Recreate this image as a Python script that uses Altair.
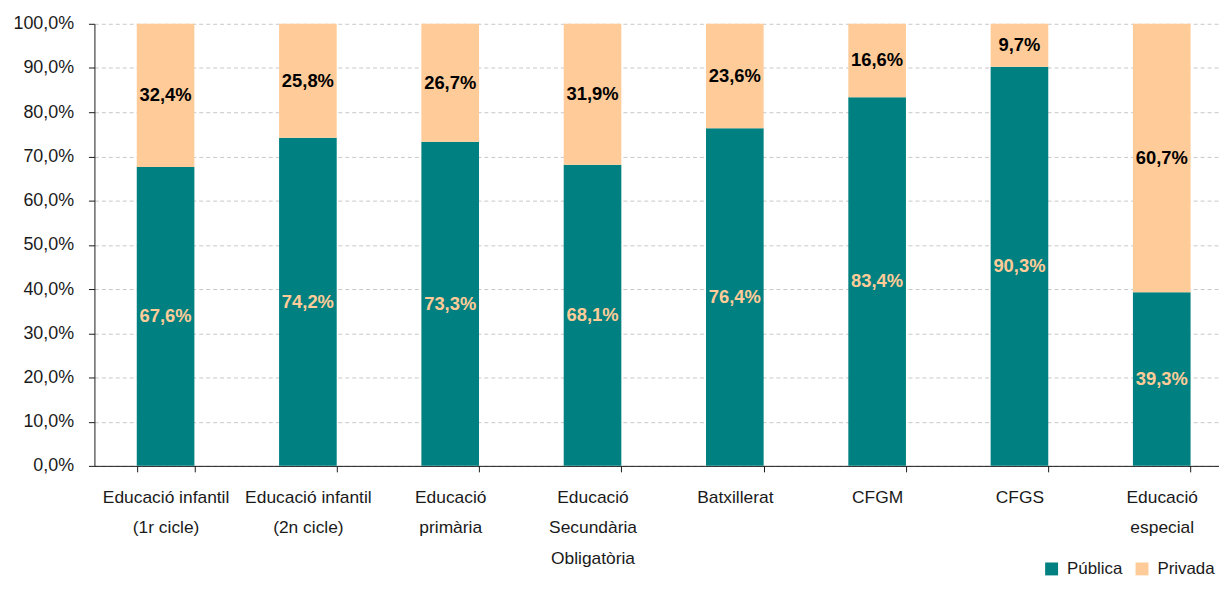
import altair as alt
import pandas as pd

categories = [
    "Educació infantil\n(1r cicle)",
    "Educació infantil\n(2n cicle)",
    "Educació\nprimària",
    "Educació\nSecundària\nObligatòria",
    "Batxillerat",
    "CFGM",
    "CFGS",
    "Educació\nespecial",
]
publica = [67.6, 74.2, 73.3, 68.1, 76.4, 83.4, 90.3, 39.3]
privada = [32.4, 25.8, 26.7, 31.9, 23.6, 16.6, 9.7, 60.7]
series = ["Pública", "Privada"]
bar_colors = ["#008080", "#FFCC99"]
label_colors = ["#FFCC99", "#000000"]
y_ticks = [0, 10, 20, 30, 40, 50, 60, 70, 80, 90, 100]

rows = []
for i, c in enumerate(categories):
    rows.append({"cat": c, "serie": series[0], "ord": 0, "value": publica[i]})
    rows.append({"cat": c, "serie": series[1], "ord": 1, "value": privada[i]})
df = pd.DataFrame(rows)

FONT = "Liberation Sans"
AX = "#1a1a1a"

x_enc = alt.X(
    "cat:N",
    sort=categories,
    scale=alt.Scale(range=[0, 1146], paddingInner=0.595, paddingOuter=0.2975),
    axis=alt.Axis(
        title=None,
        labelAngle=0,
        labelExpr="split(datum.label, '\\n')",
        labelLineHeight=30.5,
        labelFont=FONT,
        labelFontSize=17.5,
        labelColor=AX,
        labelPadding=17,
        tickSize=6,
        tickColor=AX,
        domainColor=AX,
        tickBand="extent",
        grid=False,
    ),
)

base = alt.Chart(df).transform_stack(
    stack="value", groupby=["cat"], as_=["v0", "v1"], sort=[alt.SortField("ord")]
).transform_calculate(
    mid="(datum.v0 + datum.v1) / 2",
    lbl="replace(format(datum.value / 100, '.1%'), '.', ',')",
)

bars = base.mark_bar().encode(
    x=x_enc,
    y=alt.Y(
        "v0:Q",
        scale=alt.Scale(domain=[0, 100], nice=False),
        axis=alt.Axis(
            title=None,
            values=y_ticks,
            labelExpr="replace(format(datum.value / 100, '.1%'), '.', ',')",
            labelFont=FONT,
            labelFontSize=18,
            labelColor=AX,
            labelPadding=15,
            tickSize=6,
            tickColor=AX,
            domainColor=AX,
            grid=True,
            gridColor="#C8C8C8",
            gridDash=[4, 3],
        ),
    ),
    y2="v1:Q",
    color=alt.Color(
        "serie:N",
        scale=alt.Scale(domain=series, range=bar_colors),
        legend=alt.Legend(
            title=None,
            orient="none",
            direction="horizontal",
            legendX=955,
            legendY=540,
            symbolType="square",
            symbolSize=169,
            symbolStrokeWidth=0,
            labelFont=FONT,
            labelFontSize=17,
            labelColor=AX,
            labelOffset=7,
            columnPadding=11,
        ),
    ),
)

text_layers = []
for s, col in zip(series, label_colors):
    t = base.transform_filter(alt.datum.serie == s).mark_text(
        font=FONT, fontSize=18.5, fontWeight="bold", color=col, baseline="middle"
    ).encode(
        x=alt.X("cat:N", sort=categories),
        y=alt.Y("mid:Q"),
        text="lbl:N",
    )
    text_layers.append(t)

chart = alt.layer(bars, *text_layers).properties(
    width=1132,
    height=445,
    autosize=alt.AutoSizeParams(type="none"),
    padding={"left": 87, "top": 14, "right": 0, "bottom": 116},
).configure_view(stroke=None)

chart.save("out.html", embed_options={"renderer": "svg", "actions": False})
